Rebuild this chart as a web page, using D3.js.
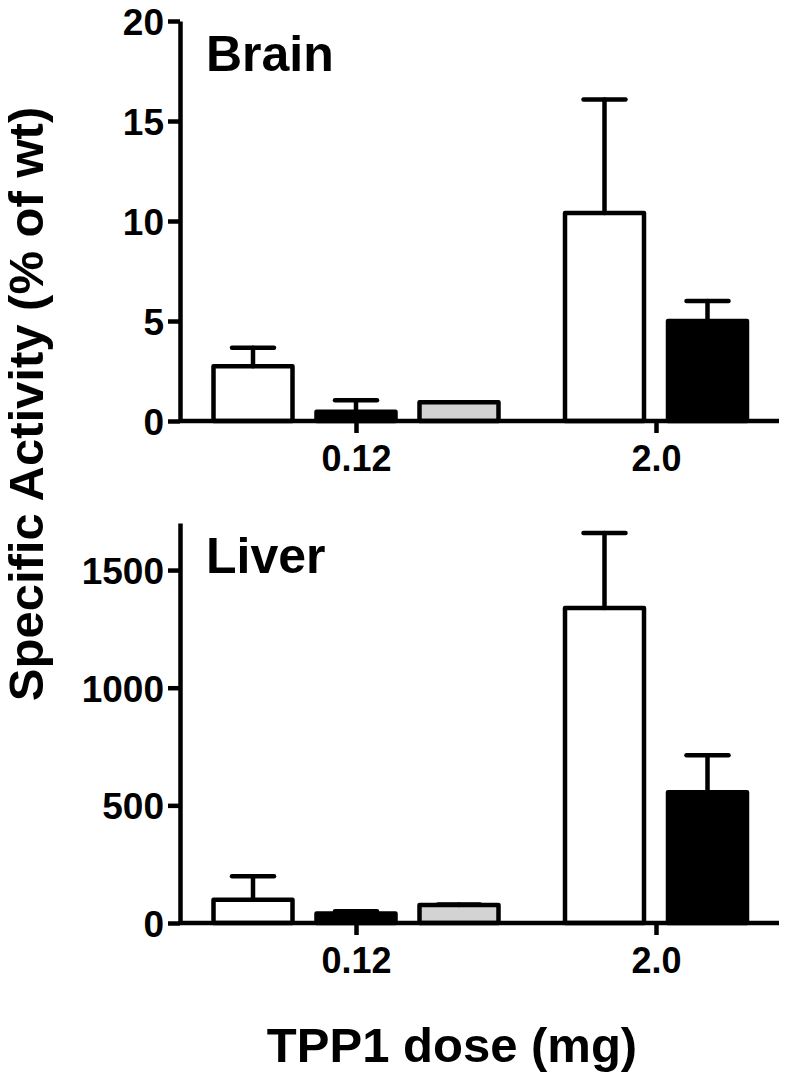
<!DOCTYPE html>
<html>
<head>
<meta charset="utf-8">
<script src="https://cdnjs.cloudflare.com/ajax/libs/d3/7.8.5/d3.min.js"></script>
<style>
  body { margin: 0; background: #fff; }
  text { font-family: "Liberation Sans", Arial, sans-serif; font-weight: bold; fill: #000; }
</style>
</head>
<body>
<div class="chart"></div>
<script>
// Data
// ========================
var doses = ["0.12", "2.0"];

// three treatment groups: open, filled, grey (grey only at 0.12 mg)
var seriesNames = ["open", "filled", "grey"];
var seriesFill = ["#ffffff", "#000000", "#d3d3d3"];

var brainOpen = [2.74, 10.4];
var brainOpenErr = [0.92, 5.67];
var brainFilled = [0.46, 5.0];
var brainFilledErr = [0.58, 1.0];
var brainGrey = [0.94, null];
var brainGreyErr = [0, null];

var liverOpen = [99, 1339];
var liverOpenErr = [100, 318];
var liverFilled = [40, 556];
var liverFilledErr = [10, 157];
var liverGrey = [76, null];
var liverGreyErr = [3, null];

var brainTicks = [0, 5, 10, 15, 20];
var liverTicks = [0, 500, 1000, 1500];

var svgWidth = 789;
var svgHeight = 1080;

var chartMargin = { left: 180, right: 8 };
var chartWidth = svgWidth - chartMargin.left - chartMargin.right;

var panels = [
  { name: "Brain", top: 21, height: 400, max: 20, ticks: brainTicks,
    means: [brainOpen, brainFilled, brainGrey], errs: [brainOpenErr, brainFilledErr, brainGreyErr] },
  { name: "Liver", top: 523, height: 400, max: 1700, ticks: liverTicks,
    means: [liverOpen, liverFilled, liverGrey], errs: [liverOpenErr, liverFilledErr, liverGreyErr] }
];

var barStep = 103;
var barWidth = 79;
var capWidth = 42;
var lineW = 4.5;

var svg = d3
  .select(".chart")
  .append("svg")
  .attr("width", svgWidth)
  .attr("height", svgHeight);

// dose group centres
var xScale = d3.scalePoint()
  .domain(doses)
  .range([176, 476]);

panels.forEach(function (p) {
  var g = svg.append("g")
    .attr("transform", `translate(${chartMargin.left}, ${p.top})`);

  var yScale = d3.scaleLinear()
    .domain([0, p.max])
    .range([p.height, 0]);

  // build bar rows from the series arrays
  var rows = [];
  doses.forEach(function (dose, di) {
    var present = [];
    seriesNames.forEach(function (s, si) {
      if (p.means[si][di] !== null) present.push(si);
    });
    present.forEach(function (si, k) {
      rows.push({
        dose: dose,
        series: si,
        value: p.means[si][di],
        err: p.errs[si][di],
        offset: (k - (present.length - 1) / 2) * barStep
      });
    });
  });

  // bars
  g.selectAll(".bar")
    .data(rows)
    .enter()
    .append("rect")
    .attr("class", "bar")
    .attr("x", d => xScale(d.dose) + d.offset - barWidth / 2)
    .attr("y", d => yScale(d.value))
    .attr("width", barWidth)
    .attr("height", d => yScale(0) - yScale(d.value))
    .attr("fill", d => seriesFill[d.series])
    .attr("stroke", "#000")
    .attr("stroke-width", lineW)
    .attr("stroke-linejoin", "round");

  // error bars (upper only)
  var errG = g.selectAll(".err")
    .data(rows.filter(d => d.err > 0))
    .enter()
    .append("g")
    .attr("class", "err")
    .attr("stroke", "#000")
    .attr("stroke-width", lineW)
    .attr("stroke-linecap", "round");

  errG.append("line")
    .attr("x1", d => xScale(d.dose) + d.offset)
    .attr("x2", d => xScale(d.dose) + d.offset)
    .attr("y1", d => yScale(d.value))
    .attr("y2", d => yScale(d.value + d.err));

  errG.append("line")
    .attr("x1", d => xScale(d.dose) + d.offset - capWidth / 2)
    .attr("x2", d => xScale(d.dose) + d.offset + capWidth / 2)
    .attr("y1", d => yScale(d.value + d.err))
    .attr("y2", d => yScale(d.value + d.err));

  // axes
  var leftAxis = d3.axisLeft(yScale)
    .tickValues(p.ticks)
    .tickFormat(d3.format("d"))
    .tickSize(12)
    .tickSizeOuter(0)
    .tickPadding(4);

  var yAxis = g.append("g").call(leftAxis);
  yAxis.selectAll("path, line")
    .attr("stroke", "#000")
    .attr("stroke-width", lineW);
  yAxis.selectAll("text")
    .attr("font-size", 37)
    .attr("dy", "0.36em");

  var bottomAxis = d3.axisBottom(xScale)
    .tickSize(12)
    .tickSizeOuter(0)
    .tickPadding(12);

  var xAxis = g.append("g")
    .attr("transform", `translate(0, ${p.height})`)
    .call(bottomAxis);
  xAxis.select(".domain")
    .attr("d", `M0,0H${chartWidth - 2}`);
  xAxis.selectAll("path, line")
    .attr("stroke", "#000")
    .attr("stroke-width", lineW);
  xAxis.selectAll("text")
    .attr("font-size", 36);

  svg.selectAll("text").attr("font-family", null);

  // panel label
  g.append("text")
    .attr("x", 26)
    .attr("y", 50)
    .attr("font-size", 50)
    .text(p.name);
});

// axis titles
svg.append("text")
  .attr("transform", "rotate(-90)")
  .attr("x", -404)
  .attr("y", 43)
  .attr("text-anchor", "middle")
  .attr("font-size", 49)
  .text("Specific Activity (% of wt)");

svg.append("text")
  .attr("x", 452)
  .attr("y", 1062)
  .attr("text-anchor", "middle")
  .attr("font-size", 49)
  .text("TPP1 dose (mg)");
</script>
</body>
</html>
